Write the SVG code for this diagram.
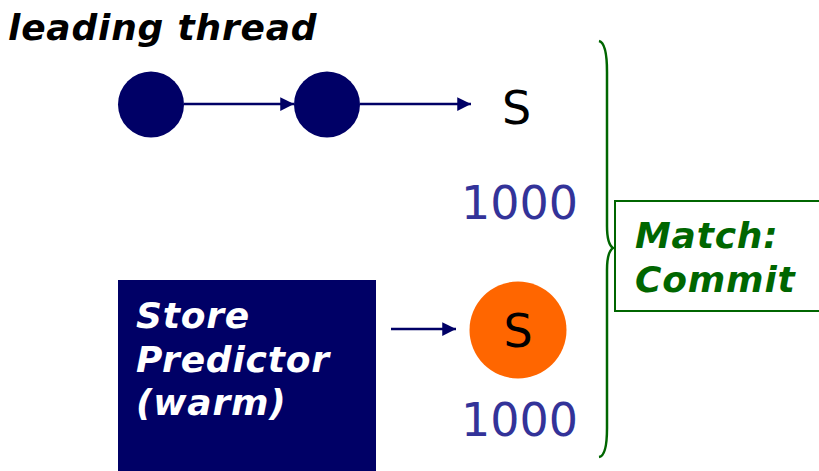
<svg xmlns="http://www.w3.org/2000/svg" width="819" height="471" viewBox="0 0 819 471">
<style>
.bi{font-family:"DejaVu Sans",Verdana,sans-serif;font-weight:bold;font-style:italic;font-size:36px;letter-spacing:0.8px}
.num{font-family:"DejaVu Sans",Verdana,sans-serif;font-size:46px;fill:#333399}
.s{font-family:"DejaVu Sans",Verdana,sans-serif;font-size:46px;fill:#000}
.conn{stroke:#000066;stroke-width:2.5;fill:none}
</style>
<defs>
<marker id="ah" viewBox="0 0 10 10" refX="10" refY="5" markerWidth="6.5" markerHeight="5.5" markerUnits="strokeWidth" orient="auto">
<path d="M0,0 L10,5 L0,10 z" fill="#000066"/>
</marker>
</defs>
<rect width="819" height="471" fill="#fff"/>
<text class="bi" x="8" y="40" fill="#000">leading thread</text>
<g id="node1"><ellipse cx="151" cy="104.5" rx="33" ry="33" fill="#000066"/></g>
<g id="node2"><ellipse cx="327" cy="104.5" rx="33" ry="33" fill="#000066"/></g>
<g id="storeTop"><text class="s" x="502" y="124">S</text></g>
<g id="num1"><text class="num" x="461" y="219">1000</text></g>
<g id="predictor">
<rect x="118" y="280" width="258" height="191" fill="#000066"/>
<text class="bi" fill="#fff"><tspan x="136" y="328">Store</tspan><tspan x="136" y="372">Predictor</tspan><tspan x="136" y="415">(warm)</tspan></text>
</g>
<g id="storePred">
<circle cx="518" cy="330" r="48.5" fill="#ff6600"/>
<text class="s" x="518" y="347" text-anchor="middle">S</text>
</g>
<g id="num2"><text class="num" x="461" y="436">1000</text></g>
<g id="brace"><path d="M599,41 Q607,43 607,72 L607,226 Q607,244 613,248 Q607,252 607,270 L607,428 Q607,456 599,457" stroke="#006600" stroke-width="2.5" fill="none"/></g>
<g id="match">
<rect x="615" y="201" width="210" height="110" fill="#fff" stroke="#006600" stroke-width="2"/>
<text class="bi" fill="#006600"><tspan x="635" y="248">Match:</tspan><tspan x="635" y="292">Commit</tspan></text>
</g>
<g id="connectors">
<line class="conn" x1="184" y1="104" x2="294" y2="104" marker-end="url(#ah)"/>
<line class="conn" x1="360" y1="104" x2="471" y2="104" marker-end="url(#ah)"/>
<line class="conn" x1="391" y1="329" x2="456" y2="329" marker-end="url(#ah)"/>
</g>
</svg>
